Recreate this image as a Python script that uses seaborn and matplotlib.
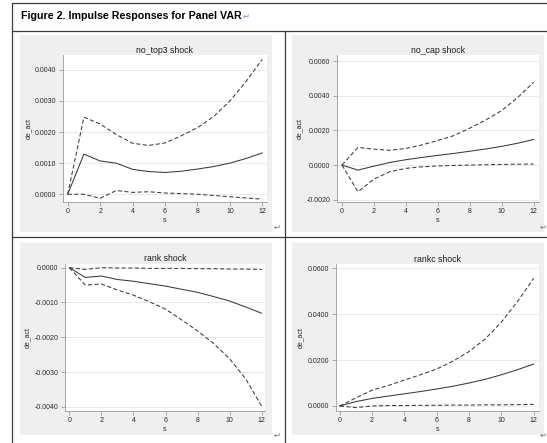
import matplotlib
matplotlib.use("Agg")
import matplotlib.pyplot as plt
from matplotlib.patches import Rectangle
from matplotlib.lines import Line2D
import pandas as pd
import seaborn as sns

# impulse response data (steps 0..12)
steps = list(range(13))

no_top3_irf = [0, 0.00129, 0.00107, 0.00100, 0.00080, 0.00073, 0.00070, 0.00074, 0.00081, 0.00089, 0.00100, 0.00115, 0.00133]
no_top3_hi = [0, 0.00248, 0.00226, 0.00192, 0.00164, 0.00157, 0.00165, 0.00188, 0.00214, 0.00250, 0.00300, 0.00363, 0.00434]
no_top3_lo = [0, 0.00000, -0.00013, 0.00012, 0.00006, 0.00008, 0.00004, 0.00002, 0.00000, -0.00004, -0.00008, -0.00012, -0.00016]

no_cap_irf = [0, -0.00029, -0.00006, 0.00015, 0.00031, 0.00044, 0.00056, 0.00067, 0.00080, 0.00093, 0.00108, 0.00126, 0.00148]
no_cap_hi = [0, 0.00102, 0.00092, 0.00085, 0.00096, 0.00116, 0.00142, 0.00170, 0.00213, 0.00260, 0.00315, 0.00390, 0.00478]
no_cap_lo = [0, -0.00154, -0.00081, -0.00038, -0.00019, -0.00010, -0.00005, -0.00002, 0.00000, 0.00002, 0.00004, 0.00005, 0.00006]

rank_irf = [0, -0.00028, -0.00024, -0.00034, -0.00039, -0.00046, -0.00053, -0.00062, -0.00071, -0.00083, -0.00096, -0.00113, -0.00131]
rank_hi = [0, -0.00005, 0.00000, -0.00001, -0.00001, -0.00002, -0.00002, -0.00002, -0.00003, -0.00003, -0.00004, -0.00004, -0.00005]
rank_lo = [0, -0.00050, -0.00047, -0.00064, -0.00079, -0.00098, -0.00119, -0.00150, -0.00182, -0.00218, -0.00262, -0.00320, -0.00399]

rankc_irf = [0, 0.0019, 0.0033, 0.0043, 0.0053, 0.0063, 0.0074, 0.0086, 0.0100, 0.0116, 0.0136, 0.0158, 0.0183]
rankc_hi = [0, 0.0035, 0.0069, 0.0089, 0.0113, 0.0136, 0.0161, 0.0195, 0.0237, 0.0292, 0.0365, 0.0455, 0.0556]
rankc_lo = [0, -0.0007, 0.0000, 0.0002, 0.0002, 0.0003, 0.0003, 0.0004, 0.0004, 0.0005, 0.0005, 0.0006, 0.0007]

panel_titles = ["no_top3 shock", "no_cap shock", "rank shock", "rankc shock"]
panel_series = [(no_top3_irf, no_top3_lo, no_top3_hi),
                (no_cap_irf, no_cap_lo, no_cap_hi),
                (rank_irf, rank_lo, rank_hi),
                (rankc_irf, rankc_lo, rankc_hi)]
y_ticks = [[0, 0.001, 0.002, 0.003, 0.004],
           [-0.002, 0, 0.002, 0.004, 0.006],
           [-0.004, -0.003, -0.002, -0.001, 0],
           [0, 0.02, 0.04, 0.06]]
x_ticks = [0, 2, 4, 6, 8, 10, 12]

# layout in pixels (top-left origin) of the 547x443 page
W, H = 547, 443
plot_boxes = [(63, 55, 266.5, 202), (337, 55, 539, 202),
              (65, 263.5, 265, 410.7), (335.5, 264.3, 538.7, 411)]
gray_boxes = [(20, 35, 271.5, 231.5), (292, 35, 544, 231.5),
              (20, 243, 271.5, 435), (292, 243, 544, 435)]
y_lims = [(-0.00025, 0.00448), (-0.00213, 0.00635),
          (-0.00411, 0.00012), (-0.00218, 0.0617)]
x_lims = [(-0.29, 12.26), (-0.31, 12.33), (-0.27, 12.2), (-0.26, 12.31)]


def fbox(x0, y0, x1, y1):
    return [x0 / W, 1 - y1 / H, (x1 - x0) / W, (y1 - y0) / H]


sns.set_theme(style="white", rc={"axes.unicode_minus": False})
plt.rcParams["font.family"] = ["Liberation Sans", "DejaVu Sans"]

fig = plt.figure(figsize=(W / 100, H / 100), dpi=100)
fig.patch.set_facecolor("white")

# word table lines
tcol = "#3c3c3c"
for (xa, ya, xb, yb) in [(12, 3.3, 547, 3.3), (12, 30.5, 547, 30.5), (12, 237.3, 547, 237.3),
                         (12.3, 3.3, 12.3, 443), (285, 30.5, 285, 443)]:
    fig.add_artist(Line2D([xa / W, xb / W], [1 - ya / H, 1 - yb / H],
                          color=tcol, lw=0.9, transform=fig.transFigure))

# caption in the title row
cap = fig.text(20.7 / W, 1 - 16 / H, "Figure 2. Impulse Responses for Panel VAR",
               fontsize=7.7, fontweight="bold", color="black", va="center", ha="left")
fig.canvas.draw()
bb = cap.get_window_extent(fig.canvas.get_renderer())
fig.text(bb.x1 / (W) + 1 / W, 1 - 16.5 / H, "\u21b5", fontsize=6, color="#7b93c4",
         va="center", ha="left", family=["DejaVu Sans"])

# paragraph marks at the cell corners
for (mx, my, al) in [(277, 227, "center"), (546.5, 227.5, "right"),
                     (277, 435, "center"), (546.5, 435, "right")]:
    fig.text(mx / W, 1 - my / H, "\u21b5", fontsize=6, color="#4f79d6",
             va="center", ha=al, family=["DejaVu Sans"])

for i in range(4):
    gb = fbox(*gray_boxes[i])
    fig.add_artist(Rectangle((gb[0], gb[1]), gb[2], gb[3], transform=fig.transFigure,
                             facecolor="#efefef", edgecolor="none", zorder=0))
    ax = fig.add_axes(fbox(*plot_boxes[i]))
    ax.set_facecolor("white")
    irf, lo, hi = panel_series[i]
    df = pd.DataFrame({"s": steps, "irf": irf, "lo": lo, "hi": hi})
    sns.lineplot(data=df, x="s", y="hi", ax=ax, color="#3a3a3a", lw=0.75,
                 linestyle=(0, (4, 2.3)))
    sns.lineplot(data=df, x="s", y="lo", ax=ax, color="#3a3a3a", lw=0.75,
                 linestyle=(0, (4, 2.3)))
    sns.lineplot(data=df, x="s", y="irf", ax=ax, color="#3a3a3a", lw=0.75)

    ax.set_xlim(*x_lims[i])
    ax.set_ylim(*y_lims[i])
    ax.set_xticks(x_ticks)
    ax.set_yticks(y_ticks[i])
    ax.set_yticklabels(["%.4f" % v for v in y_ticks[i]])
    ax.tick_params(axis="both", which="major", labelsize=5, length=3, width=0.5,
                   color="#8c8c8c", labelcolor="#2a2a2a", pad=1.6, left=True, bottom=True)
    ax.yaxis.grid(True, color="#e6e6e6", lw=0.6)
    ax.xaxis.grid(False)
    ax.set_axisbelow(True)
    for side in ["top", "right"]:
        ax.spines[side].set_visible(False)
    for side in ["left", "bottom"]:
        ax.spines[side].set_color("#9a9a9a")
        ax.spines[side].set_linewidth(0.6)
    ax.set_xlabel("s", fontsize=5, color="#2a2a2a", labelpad=1.5)
    ax.set_ylabel("de_act", fontsize=5, color="#2a2a2a", labelpad=2.5)
    ax.set_title(panel_titles[i], fontsize=6.3, color="#1e1e1e", pad=1.5)

plt.savefig("out.png", dpi=100)
